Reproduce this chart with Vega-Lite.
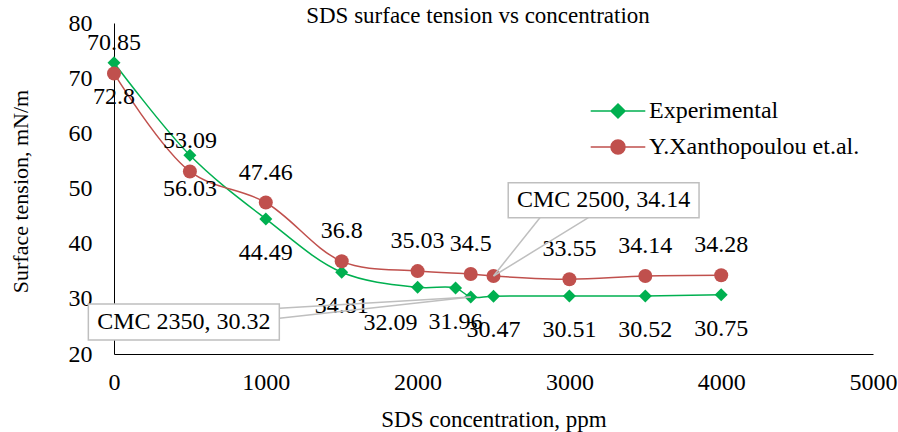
{
  "$schema": "https://vega.github.io/schema/vega-lite/v6.json",
  "width": 759,
  "height": 331,
  "autosize": "none",
  "padding": {"left": 114, "top": 23, "right": 25, "bottom": 78},
  "background": "white",
  "config": {
    "font": "Liberation Serif",
    "view": {"stroke": null},
    "axis": {
      "grid": false,
      "ticks": false,
      "domainColor": "black",
      "domainWidth": 1,
      "labelColor": "black",
      "labelFont": "Liberation Serif",
      "labelFontSize": 24,
      "titleFont": "Liberation Serif",
      "titleFontSize": 23,
      "titleFontWeight": "normal",
      "titleColor": "black",
      "labelOverlap": false
    }
  },
  "datasets": {
    "series": [
      {"series": "Experimental", "x": 0, "y": 72.8, "label": "72.8"},
      {"series": "Experimental", "x": 500, "y": 56.03, "label": "56.03"},
      {"series": "Experimental", "x": 1000, "y": 44.49, "label": "44.49"},
      {"series": "Experimental", "x": 1500, "y": 34.81, "label": "34.81"},
      {"series": "Experimental", "x": 2000, "y": 32.09, "label": "32.09"},
      {"series": "Experimental", "x": 2250, "y": 31.96, "label": "31.96"},
      {"series": "Experimental", "x": 2350, "y": 30.32, "label": ""},
      {"series": "Experimental", "x": 2500, "y": 30.47, "label": "30.47"},
      {"series": "Experimental", "x": 3000, "y": 30.51, "label": "30.51"},
      {"series": "Experimental", "x": 3500, "y": 30.52, "label": "30.52"},
      {"series": "Experimental", "x": 4000, "y": 30.75, "label": "30.75"},
      {"series": "Y.Xanthopoulou et.al.", "x": 0, "y": 70.85, "label": "70.85"},
      {"series": "Y.Xanthopoulou et.al.", "x": 500, "y": 53.09, "label": "53.09"},
      {"series": "Y.Xanthopoulou et.al.", "x": 1000, "y": 47.46, "label": "47.46"},
      {"series": "Y.Xanthopoulou et.al.", "x": 1500, "y": 36.8, "label": "36.8"},
      {"series": "Y.Xanthopoulou et.al.", "x": 2000, "y": 35.03, "label": "35.03"},
      {"series": "Y.Xanthopoulou et.al.", "x": 2350, "y": 34.5, "label": "34.5"},
      {"series": "Y.Xanthopoulou et.al.", "x": 2500, "y": 34.14, "label": ""},
      {"series": "Y.Xanthopoulou et.al.", "x": 3000, "y": 33.55, "label": "33.55"},
      {"series": "Y.Xanthopoulou et.al.", "x": 3500, "y": 34.14, "label": "34.14"},
      {"series": "Y.Xanthopoulou et.al.", "x": 4000, "y": 34.28, "label": "34.28"}
    ],
    "wedges": [
      {"x1": 1089, "y1": 28.28, "x2": 2350, "y2": 30.32},
      {"x1": 1089, "y1": 26.47, "x2": 2350, "y2": 30.32},
      {"x1": 2806, "y1": 44.71, "x2": 2500, "y2": 34.14},
      {"x1": 3125, "y1": 44.71, "x2": 2500, "y2": 34.14}
    ],
    "boxes": [
      {"x1": -169, "x2": 1089, "y1": 29.06, "y2": 22.54, "cx": 460, "cy": 25.8, "text": "CMC 2350, 30.32"},
      {"x1": 2597, "x2": 3854, "y1": 51.05, "y2": 44.71, "cx": 3225, "cy": 47.88, "text": "CMC 2500, 34.14"}
    ],
    "heading": [
      {"cx": 2398, "cy": 80, "text": "SDS surface tension vs concentration"}
    ]
  },
  "layer": [
    {
      "data": {"name": "series"},
      "mark": {"type": "line", "interpolate": "catmull-rom", "strokeWidth": 1.5},
      "encoding": {
        "x": {"field": "x", "type": "quantitative", "title": "SDS concentration, ppm",
              "scale": {"domain": [0, 5000], "nice": false, "zero": false},
              "axis": {"values": [0, 1000, 2000, 3000, 4000, 5000], "format": "d", "labelPadding": 16, "labelFlush": false,
                       "titleY": 72, "titleBaseline": "alphabetic"}},
        "y": {"field": "y", "type": "quantitative", "title": "Surface tension, mN/m",
              "scale": {"domain": [20, 80], "nice": false, "zero": false},
              "axis": {"values": [20, 30, 40, 50, 60, 70, 80], "format": "d", "labelPadding": 22,
                       "titleX": -87, "titleY": 168, "titleAngle": 270, "titleAlign": "center",
                       "titleBaseline": "alphabetic", "titleFontSize": 22}},
        "color": {"field": "series", "type": "nominal",
                  "scale": {"domain": ["Experimental", "Y.Xanthopoulou et.al."], "range": ["#00b050", "#c0504d"]},
                  "legend": {"orient": "none", "legendX": 492, "legendY": 76, "title": null,
                             "symbolSize": 196, "labelFontSize": 24, "labelFont": "Liberation Serif", "labelLimit": 400,
                             "labelColor": "black", "labelOffset": 19, "rowPadding": 12, "padding": 0,
                             "encode": {"symbols": {"update": {
                               "shape": {"signal": "datum.value === 'Experimental' ? 'M-3.9,0H3.9M0,-1L1,0L0,1L-1,0Z' : 'M-3.9,0H3.9M1,0A1,1 0 1,1 -1,0A1,1 0 1,1 1,0Z'"},
                               "fill": {"signal": "datum.value === 'Experimental' ? '#00b050' : '#c0504d'"},
                               "stroke": {"signal": "datum.value === 'Experimental' ? '#00b050' : '#c0504d'"},
                               "strokeWidth": {"value": 1.5},
                               "opacity": {"value": 1},
                               "fillOpacity": {"value": 1}
                             }}}}}
      }
    },
    {
      "data": {"name": "series"},
      "transform": [{"filter": "datum.series === 'Experimental'"}],
      "mark": {"type": "point", "shape": "diamond", "filled": true, "size": 169, "opacity": 1},
      "encoding": {
        "x": {"field": "x", "type": "quantitative", "title": "SDS concentration, ppm", "scale": {"domain": [0, 5000], "nice": false, "zero": false}},
        "y": {"field": "y", "type": "quantitative", "title": "Surface tension, mN/m", "scale": {"domain": [20, 80], "nice": false, "zero": false}},
        "color": {"value": "#00b050"}
      }
    },
    {
      "data": {"name": "series"},
      "transform": [{"filter": "datum.series !== 'Experimental'"}],
      "mark": {"type": "point", "shape": "circle", "filled": true, "size": 196, "opacity": 1},
      "encoding": {
        "x": {"field": "x", "type": "quantitative", "title": "SDS concentration, ppm", "scale": {"domain": [0, 5000], "nice": false, "zero": false}},
        "y": {"field": "y", "type": "quantitative", "title": "Surface tension, mN/m", "scale": {"domain": [20, 80], "nice": false, "zero": false}},
        "color": {"value": "#c0504d"}
      }
    },
    {
      "data": {"name": "series"},
      "transform": [{"filter": "datum.series === 'Experimental' && datum.x !== 2000"}],
      "mark": {"type": "text", "font": "Liberation Serif", "fontSize": 24, "color": "black", "baseline": "middle", "align": "center", "dy": 34},
      "encoding": {
        "x": {"field": "x", "type": "quantitative", "title": "SDS concentration, ppm", "scale": {"domain": [0, 5000], "nice": false, "zero": false}},
        "y": {"field": "y", "type": "quantitative", "title": "Surface tension, mN/m", "scale": {"domain": [20, 80], "nice": false, "zero": false}},
        "text": {"field": "label"}
      }
    },
    {
      "data": {"name": "series"},
      "transform": [{"filter": "datum.series === 'Experimental' && datum.x === 2000"}],
      "mark": {"type": "text", "font": "Liberation Serif", "fontSize": 24, "color": "black", "baseline": "middle", "align": "center", "dy": 36, "dx": -27},
      "encoding": {
        "x": {"field": "x", "type": "quantitative", "title": "SDS concentration, ppm", "scale": {"domain": [0, 5000], "nice": false, "zero": false}},
        "y": {"field": "y", "type": "quantitative", "title": "Surface tension, mN/m", "scale": {"domain": [20, 80], "nice": false, "zero": false}},
        "text": {"field": "label"}
      }
    },
    {
      "data": {"name": "series"},
      "transform": [{"filter": "datum.series !== 'Experimental'"}],
      "mark": {"type": "text", "font": "Liberation Serif", "fontSize": 24, "color": "black", "baseline": "middle", "align": "center", "dy": -30},
      "encoding": {
        "x": {"field": "x", "type": "quantitative", "title": "SDS concentration, ppm", "scale": {"domain": [0, 5000], "nice": false, "zero": false}},
        "y": {"field": "y", "type": "quantitative", "title": "Surface tension, mN/m", "scale": {"domain": [20, 80], "nice": false, "zero": false}},
        "text": {"field": "label"}
      }
    },
    {
      "data": {"name": "wedges"},
      "mark": {"type": "rule", "color": "#bfbfbf", "strokeWidth": 1.5},
      "encoding": {
        "x": {"field": "x1", "type": "quantitative", "title": "SDS concentration, ppm", "scale": {"domain": [0, 5000], "nice": false, "zero": false}},
        "y": {"field": "y1", "type": "quantitative", "title": "Surface tension, mN/m", "scale": {"domain": [20, 80], "nice": false, "zero": false}},
        "x2": {"field": "x2"},
        "y2": {"field": "y2"}
      }
    },
    {
      "data": {"name": "boxes"},
      "mark": {"type": "rect", "fill": "white", "stroke": "#bfbfbf", "strokeWidth": 1.5},
      "encoding": {
        "x": {"field": "x1", "type": "quantitative", "title": "SDS concentration, ppm", "scale": {"domain": [0, 5000], "nice": false, "zero": false}},
        "y": {"field": "y1", "type": "quantitative", "title": "Surface tension, mN/m", "scale": {"domain": [20, 80], "nice": false, "zero": false}},
        "x2": {"field": "x2"},
        "y2": {"field": "y2"}
      }
    },
    {
      "data": {"name": "boxes"},
      "mark": {"type": "text", "font": "Liberation Serif", "fontSize": 24, "color": "black", "baseline": "middle", "align": "center"},
      "encoding": {
        "x": {"field": "cx", "type": "quantitative", "title": "SDS concentration, ppm", "scale": {"domain": [0, 5000], "nice": false, "zero": false}},
        "y": {"field": "cy", "type": "quantitative", "title": "Surface tension, mN/m", "scale": {"domain": [20, 80], "nice": false, "zero": false}},
        "text": {"field": "text"}
      }
    },
    {
      "data": {"name": "heading"},
      "mark": {"type": "text", "font": "Liberation Serif", "fontSize": 23, "color": "black", "baseline": "alphabetic", "align": "center"},
      "encoding": {
        "x": {"field": "cx", "type": "quantitative", "title": "SDS concentration, ppm", "scale": {"domain": [0, 5000], "nice": false, "zero": false}},
        "y": {"field": "cy", "type": "quantitative", "title": "Surface tension, mN/m", "scale": {"domain": [20, 80], "nice": false, "zero": false}},
        "text": {"field": "text"}
      }
    }
  ]
}
